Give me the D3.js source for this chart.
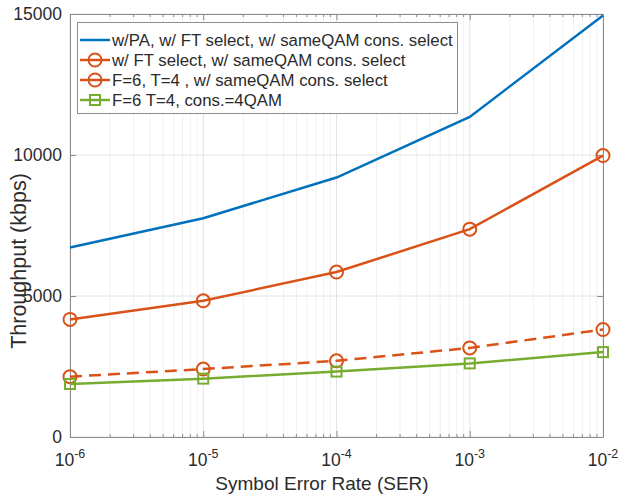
<!DOCTYPE html>
<html>
<head>
<meta charset="utf-8">
<title>Throughput vs SER</title>
<script src="https://d3js.org/d3.v7.min.js"></script>
<style>
  body { margin: 0; background: #fff; }
  svg text { font-family: "Liberation Sans", Arial, sans-serif; fill: #2b2b2b; }
</style>
</head>
<body>
<div id="chart"></div>
<script>
// data
const ser = [1e-6, 1e-5, 1e-4, 1e-3, 1e-2];
const paFtQam = [6720, 7760, 9200, 11350, 14950];
const ftQam = [4170, 4830, 5850, 7370, 9980];
const fixedQam = [2140, 2410, 2700, 3160, 3810];
const fixed4Qam = [1880, 2070, 2320, 2610, 3010];
const yTicks = [0, 5000, 10000, 15000];
const xTickExp = [-6, -5, -4, -3, -2];
const legendLabels = [
  "w/PA, w/ FT select, w/ sameQAM cons. select",
  "w/ FT select, w/ sameQAM cons. select",
  "F=6, T=4 , w/ sameQAM cons. select",
  "F=6 T=4, cons.=4QAM"
];

const width = 619, height = 495;
const margin = { top: 14, right: 16, bottom: 58, left: 70 };

const svg = d3.select("#chart").append("svg")
    .attr("width", width)
    .attr("height", height);

const x = d3.scaleLog()
    .domain([1e-6, 1e-2])
    .range([margin.left, width - margin.right]);

const y = d3.scaleLinear()
    .domain([0, 15000])
    .range([height - margin.bottom, margin.top]);

const x0 = margin.left, x1 = width - margin.right;
const y0 = height - margin.bottom, y1 = margin.top;

// minor log positions (2..9 in each decade)
var minorX = [];
xTickExp.slice(0, -1).forEach(function(e) {
  for (var k = 2; k <= 9; k++) minorX.push(k * Math.pow(10, e));
});

// grid
const grid = svg.append("g");
grid.selectAll(".minor")
  .data(minorX).enter().append("line")
    .attr("x1", d => x(d)).attr("x2", d => x(d))
    .attr("y1", y0).attr("y2", y1)
    .attr("stroke", "#f0f0f0").attr("stroke-width", 1);
grid.selectAll(".majx")
  .data(ser).enter().append("line")
    .attr("x1", d => x(d)).attr("x2", d => x(d))
    .attr("y1", y0).attr("y2", y1)
    .attr("stroke", "#e2e2e2").attr("stroke-width", 1);
grid.selectAll(".majy")
  .data(yTicks).enter().append("line")
    .attr("x1", x0).attr("x2", x1)
    .attr("y1", d => y(d)).attr("y2", d => y(d))
    .attr("stroke", "#e2e2e2").attr("stroke-width", 1);

// axes with inward ticks, box on all sides
const axisCol = "#8c8c8c";
function styleAxis(g) {
  g.select(".domain").attr("stroke", axisCol);
  g.selectAll(".tick line").attr("stroke", axisCol);
}

svg.append("g")
    .attr("transform", `translate(0,${y0})`)
    .call(d3.axisBottom(x).tickValues(ser).tickSize(-6).tickSizeOuter(0).tickFormat(""))
    .call(styleAxis);
svg.append("g")
    .attr("transform", `translate(0,${y1})`)
    .call(d3.axisTop(x).tickValues(ser).tickSize(-6).tickSizeOuter(0).tickFormat(""))
    .call(styleAxis);
svg.append("g")
    .attr("transform", `translate(${x0},0)`)
    .call(d3.axisLeft(y).tickValues(yTicks).tickSize(-6).tickSizeOuter(0).tickFormat(""))
    .call(styleAxis);
svg.append("g")
    .attr("transform", `translate(${x1},0)`)
    .call(d3.axisRight(y).tickValues(yTicks).tickSize(-6).tickSizeOuter(0).tickFormat(""))
    .call(styleAxis);

// minor ticks top and bottom
[[y0, -3], [y1, 3]].forEach(function(p) {
  svg.append("g").selectAll("line")
    .data(minorX).enter().append("line")
      .attr("x1", d => x(d)).attr("x2", d => x(d))
      .attr("y1", p[0]).attr("y2", p[0] + p[1])
      .attr("stroke", axisCol);
});

// tick labels
svg.append("g").selectAll("text")
  .data(yTicks).enter().append("text")
    .attr("x", x0 - 8)
    .attr("y", d => y(d) + 6)
    .attr("text-anchor", "end")
    .attr("font-size", 17.5)
    .text(d => d);

const xl = svg.append("g").selectAll("text")
  .data(xTickExp).enter().append("text")
    .attr("x", d => x(Math.pow(10, d)))
    .attr("y", y0 + 29)
    .attr("text-anchor", "middle")
    .attr("font-size", 17.5);
xl.append("tspan").text("10");
xl.append("tspan").attr("dy", -8).attr("font-size", 12.5).text(d => "-" + Math.abs(d));

// axis titles
svg.append("text")
    .attr("x", 322)
    .attr("y", height - 5)
    .attr("text-anchor", "middle")
    .attr("font-size", 19)
    .text("Symbol Error Rate (SER)");

svg.append("text")
    .attr("transform", "translate(26,261)rotate(-90)")
    .attr("text-anchor", "middle")
    .attr("font-size", 21.5)
    .text("Throughput (kbps)");

// series
const series = [
  { vals: paFtQam, color: "#0072BD", dash: null, marker: null },
  { vals: ftQam, color: "#D95319", dash: null, marker: "circle" },
  { vals: fixedQam, color: "#D95319", dash: "12,7", marker: "circle" },
  { vals: fixed4Qam, color: "#77AC30", dash: null, marker: "square" }
];

const line = d3.line()
    .x((d, i) => x(ser[i]))
    .y(d => y(d));

function drawMarker(g, kind, color) {
  if (kind === "circle") {
    g.append("circle").attr("r", 6.5)
      .attr("fill", "none").attr("stroke", color).attr("stroke-width", 2);
  } else if (kind === "square") {
    g.append("rect").attr("x", -5).attr("y", -5).attr("width", 10).attr("height", 10)
      .attr("fill", "none").attr("stroke", color).attr("stroke-width", 2);
  }
}

series.forEach(function(s) {
  svg.append("path")
    .datum(s.vals)
    .attr("d", line)
    .attr("fill", "none")
    .attr("stroke", s.color)
    .attr("stroke-width", 2.5)
    .attr("stroke-dasharray", s.dash);
  if (s.marker) {
    s.vals.forEach(function(v, i) {
      const g = svg.append("g").attr("transform", `translate(${x(ser[i])},${y(v)})`);
      drawMarker(g, s.marker, s.color);
    });
  }
});

// legend
const legend = svg.append("g");
legend.append("rect")
    .attr("x", 77.5).attr("y", 22.5)
    .attr("width", 380).attr("height", 91)
    .attr("fill", "#fff").attr("stroke", "#8c8c8c");

series.forEach(function(s, i) {
  const ly = 40 + i * 20;
  legend.append("line")
    .attr("x1", 80).attr("x2", 110)
    .attr("y1", ly).attr("y2", ly)
    .attr("stroke", s.color).attr("stroke-width", 2.5);
  if (s.marker) {
    const g = legend.append("g").attr("transform", `translate(95,${ly})`);
    drawMarker(g, s.marker, s.color);
  }
  legend.append("text")
    .attr("x", 112)
    .attr("y", ly + 6)
    .attr("font-size", 16.8)
    .text(legendLabels[i]);
});
</script>
</body>
</html>
